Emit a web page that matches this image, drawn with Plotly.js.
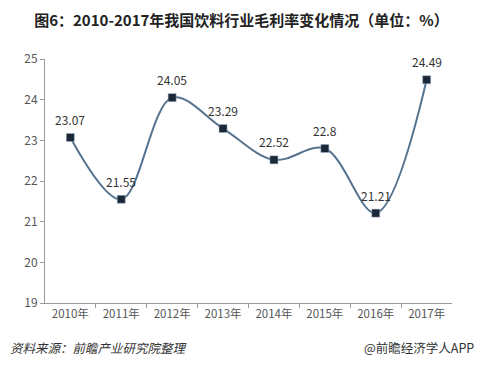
<!DOCTYPE html>
<html><head><meta charset="utf-8">
<script src="https://cdn.plot.ly/plotly-3.0.1.min.js"></script>
<style>html,body{margin:0;padding:0;background:#fff}#c{width:483px;height:370px}</style>
</head><body><div id="c"></div>
<script>
const years = ["2010年","2011年","2012年","2013年","2014年","2015年","2016年","2017年"];
const margin = [23.07,21.55,24.05,23.29,22.52,22.8,21.21,24.49];
const labels = ["23.07","21.55","24.05","23.29","22.52","22.8","21.21","24.49"];
const yTicks = [19,20,21,22,23,24,25];

const font = "'Microsoft YaHei','Noto Sans CJK SC','DejaVu Sans',sans-serif";
const trace = {
  x: years, y: margin, type: 'scatter', mode: 'lines+markers',
  line: {shape: 'spline', smoothing: 1, color: '#55738f', width: 2},
  marker: {symbol: 'square', size: 8, color: '#1b2838', line: {color: '#9fb3c8', width: 0.5}},
  cliponaxis: false, hoverinfo: 'none'
};
const dataLabels = years.map((x, i) => ({
  x: x, y: margin[i], xref: 'x', yref: 'y', text: labels[i], showarrow: false,
  xanchor: 'center', yanchor: 'middle', yshift: 18,
  font: {family: font, size: 12, color: '#333'}
}));
const layout = {
  width: 483, height: 370,
  margin: {l: 45, r: 31, t: 59, b: 67},
  paper_bgcolor: '#fff', plot_bgcolor: '#fff',
  showlegend: false,
  title: {text: '<b>图6：2010-2017年我国饮料行业毛利率变化情况（单位：%）</b>',
    font: {family: font, size: 15, color: '#222'}, x: 0.5, xanchor: 'center', y: 0.945, yanchor: 'middle'},
  xaxis: {type: 'category', showgrid: false, zeroline: false, showline: true, linecolor: '#999', linewidth: 1,
    ticks: 'outside', tickson: 'boundaries', ticklen: 4, tickcolor: '#999',
    tickfont: {family: font, size: 11.5, color: '#555'}, fixedrange: true},
  yaxis: {range: [19, 25], tickvals: yTicks, showgrid: false, zeroline: false, showline: true,
    linecolor: '#999', linewidth: 1, ticks: 'outside', ticklen: 4, tickcolor: '#999',
    tickfont: {family: font, size: 12, color: '#555'}, fixedrange: true},
  annotations: dataLabels.concat([
    {text: '<i>资料来源：前瞻产业研究院整理</i>', xref: 'paper', yref: 'paper', x: -0.09, y: -0.183,
      xanchor: 'left', yanchor: 'middle', showarrow: false, font: {family: font, size: 12.5, color: '#333'}},
    {text: '@前瞻经济学人APP', xref: 'paper', yref: 'paper', x: 1.058, y: -0.183,
      xanchor: 'right', yanchor: 'middle', showarrow: false, font: {family: font, size: 12.5, color: '#333'}}
  ])
};
Plotly.newPlot('c', [trace], layout, {staticPlot: true});
</script></body></html>
